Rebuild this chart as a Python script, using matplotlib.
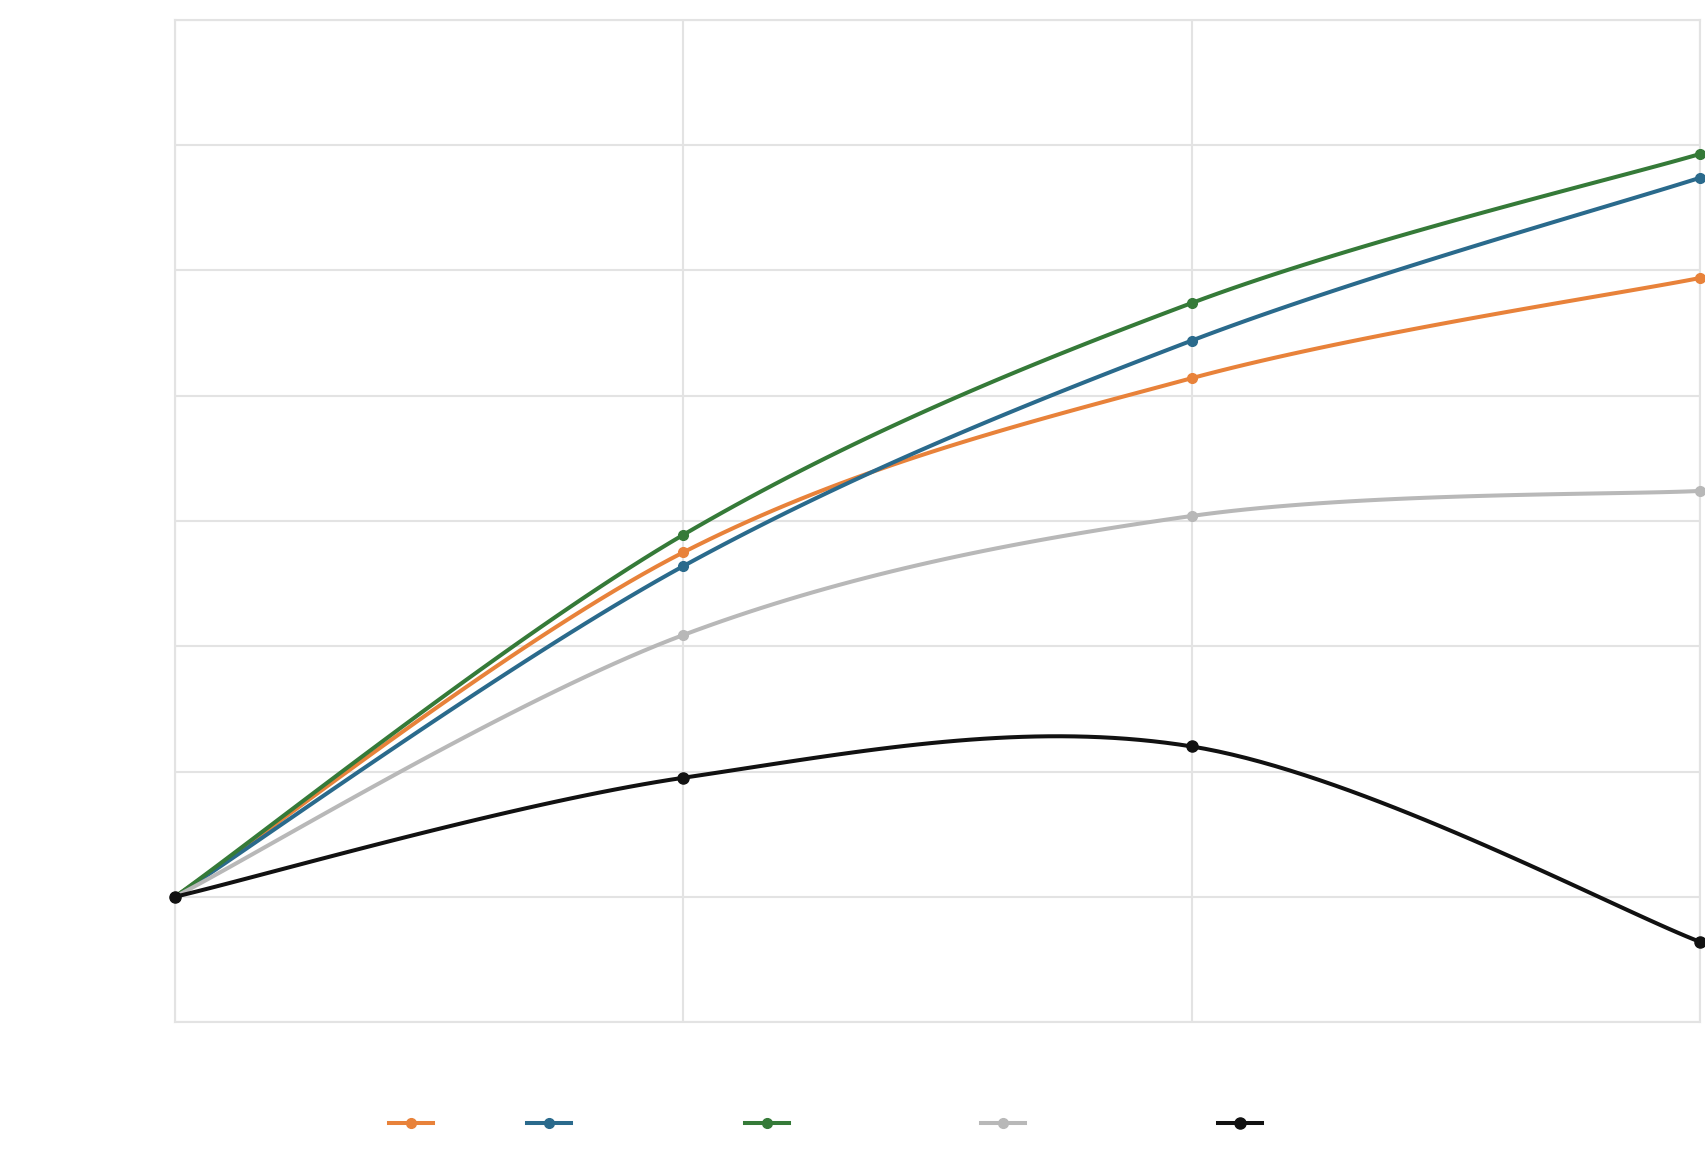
import numpy as np
import matplotlib.pyplot as plt
from matplotlib.lines import Line2D

# valores (sin textos en la imagen)
x_pos = [0, 1, 2, 3]
serie_naranja = [0.0, 2.75, 4.14, 4.94]
serie_azul = [0.0, 2.64, 4.44, 5.74]
serie_verde = [0.0, 2.89, 4.74, 5.93]
serie_gris = [0.0, 2.09, 3.04, 3.24]
serie_negra = [0.0, 0.95, 1.20, -0.36]

series = [serie_naranja, serie_azul, serie_verde, serie_gris, serie_negra]
colores = ['#E8823A', '#2A6A8C', '#357A38', '#B8B8B8', '#111111']
tam_marcador = [7, 7, 7, 7, 8]


def suavizar(x, y, n=40):
    # linea suavizada tipo Excel (Catmull-Rom)
    x = np.asarray(x, float)
    y = np.asarray(y, float)
    px = np.concatenate([[x[0]], x, [x[-1]]])
    py = np.concatenate([[y[0]], y, [y[-1]]])
    xs, ys = [], []
    for i in range(1, len(px) - 2):
        t = np.linspace(0, 1, n)
        h00 = 2 * t**3 - 3 * t**2 + 1
        h10 = t**3 - 2 * t**2 + t
        h01 = -2 * t**3 + 3 * t**2
        h11 = t**3 - t**2
        mx0 = (px[i + 1] - px[i - 1]) / 2
        mx1 = (px[i + 2] - px[i]) / 2
        my0 = (py[i + 1] - py[i - 1]) / 2
        my1 = (py[i + 2] - py[i]) / 2
        xs.append(h00 * px[i] + h10 * mx0 + h01 * px[i + 1] + h11 * mx1)
        ys.append(h00 * py[i] + h10 * my0 + h01 * py[i + 1] + h11 * my1)
    return np.concatenate(xs), np.concatenate(ys)


fig = plt.figure(figsize=(17.06, 11.53), dpi=100)
ax = fig.add_axes([0.1026, 0.1136, 0.8939, 0.8691])

for datos, color, ms in zip(series, colores, tam_marcador):
    xs, ys = suavizar(x_pos, datos)
    ax.plot(xs, ys, color=color, linewidth=2.9, zorder=3)
    ax.plot(x_pos, datos, linestyle='none', marker='o', markersize=ms,
            color=color, zorder=4, clip_on=False)

ax.set_xlim(0, 3)
ax.set_ylim(-1, 7)
ax.set_xticks(x_pos)
ax.set_yticks(np.arange(-1, 8, 1))
ax.grid(True, color='#E3E3E3', linewidth=1.5)
ax.tick_params(length=0, labelbottom=False, labelleft=False)
for s in ax.spines.values():
    s.set_color('#E3E3E3')
    s.set_linewidth(1.5)

# leyenda sin textos, solo los simbolos
leyenda_x = [411, 549, 767, 1003, 1240]
for lx, color, ms in zip(leyenda_x, colores, tam_marcador):
    fx = lx / 1706
    fy = 1 - 1123 / 1153
    fig.add_artist(Line2D([fx - 22 / 1706, fx + 22 / 1706], [fy, fy],
                          color=color, linewidth=2.9))
    fig.add_artist(Line2D([fx], [fy], marker='o', markersize=ms,
                          color=color, linestyle='none'))

plt.savefig('out.png', dpi=100)
